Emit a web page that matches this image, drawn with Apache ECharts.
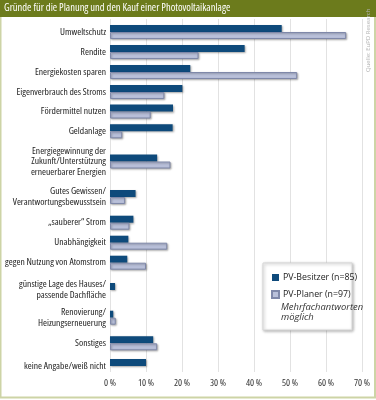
<!DOCTYPE html>
<html>
<head>
<meta charset="utf-8">
<script src="https://cdn.jsdelivr.net/npm/echarts@6/dist/echarts.min.js"></script>
<style>
  html, body { margin: 0; padding: 0; background: #fff; }
  #chart { width: 376px; height: 400px; }
</style>
</head>
<body>
<div id="chart"></div>
<script>
const categories = [
  'Umweltschutz',
  'Rendite',
  'Energiekosten sparen',
  'Eigenverbrauch des Stroms',
  'Fördermittel nutzen',
  'Geldanlage',
  'Energiegewinnung der\nZukunft/Unterstützung\nerneuerbarer Energien',
  'Gutes Gewissen/\nVerantwortungsbewusstsein',
  '„sauberer“ Strom',
  'Unabhängigkeit',
  'gegen Nutzung von Atomstrom',
  'günstige Lage des Hauses/\npassende Dachfläche',
  'Renovierung/\nHeizungserneuerung',
  'Sonstiges',
  'keine Angabe/weiß nicht'
]
const besitzer = [47.7, 37.4, 22.3, 20.1, 17.5, 17.4, 13.1, 7.1, 6.5, 5.1, 4.8, 1.4, 0.9, 12.0, 10.0]
const planer = [65.6, 24.6, 52.0, 15.1, 11.3, 3.4, 16.8, 4.2, 5.4, 15.9, 10.0, 0, 1.6, 13.1, 0]
const ticks = [0, 10, 20, 30, 40, 50, 60, 70]
const seriesNames = ['PV-Besitzer (n=85)', 'PV-Planer (n=97)']

// layout: vertical centre of each row (rows are not evenly spaced)
const rowCenters = [32, 52, 72, 92, 111.5, 131.3, 161.5, 197, 222.7, 242.7, 262.7, 290, 317.7, 343.3, 366]

const FONT = '"Open Sans", sans-serif'
const COND = 'condensed' // passed through into the canvas font string
const DARK = '#0e4a7b'
const LIGHT = '#b9c0da'

const chart = echarts.init(document.getElementById('chart'))

const grid = [], xAxis = [], yAxis = [], series = []

// background grid carrying the gridlines and percent labels
grid.push({ left: 110, right: 14, top: 19, bottom: 28, outerBoundsMode: 'none', containLabel: false })
xAxis.push({
  gridIndex: 0, type: 'value', min: ticks[0], max: ticks[ticks.length - 1], interval: 10,
  axisLine: { show: false }, axisTick: { show: false },
  splitLine: { lineStyle: { color: '#e2e2e2', width: 1 } },
  axisLabel: { formatter: '{value} %', fontFamily: FONT, fontWeight: COND, fontSize: 9.6, color: '#333', margin: 6 }
})
yAxis.push({ gridIndex: 0, type: 'value', show: false })

categories.forEach((cat, i) => {
  const g = i + 1
  grid.push({ left: 110, right: 14, top: rowCenters[i] - 10, height: 20, outerBoundsMode: 'none', containLabel: false })
  xAxis.push({ gridIndex: g, type: 'value', min: 0, max: 70, show: false })
  yAxis.push({
    gridIndex: g, type: 'category', data: [cat],
    axisLine: { show: false }, axisTick: { show: false },
    axisLabel: { fontFamily: FONT, fontWeight: COND, fontSize: 9.6, lineHeight: 10.5, color: '#222', margin: 4 }
  })
  series.push({
    name: seriesNames[0], type: 'bar', xAxisIndex: g, yAxisIndex: g,
    data: [besitzer[i]], barWidth: 7, barGap: '0%',
    itemStyle: { color: DARK, shadowBlur: 2, shadowColor: 'rgba(0,0,0,0.35)', shadowOffsetX: 1, shadowOffsetY: 1 },
    emphasis: { disabled: true }
  })
  series.push({
    name: seriesNames[1], type: 'bar', xAxisIndex: g, yAxisIndex: g,
    data: [planer[i] || '-'], barWidth: 7, barGap: '0%',
    itemStyle: { color: LIGHT, borderColor: '#7f88a9', borderWidth: 1, shadowBlur: 2, shadowColor: 'rgba(0,0,0,0.3)', shadowOffsetX: 1, shadowOffsetY: 1 },
    emphasis: { disabled: true }
  })
})

const option = {
  animation: false,
  grid, xAxis, yAxis, series,
  legend: {
    data: seriesNames,
    orient: 'vertical',
    left: 271, top: 273,
    itemWidth: 7, itemHeight: 7, itemGap: 8,
    icon: 'rect',
    padding: 0,
    textStyle: { fontFamily: FONT, fontSize: 8.8, color: '#222', padding: [0, 0, 0, -1] }
  },
  graphic: [
    // outer frame
    { type: 'rect', shape: { x: 0.5, y: 0.5, width: 374.5, height: 397 }, style: { fill: 'none', stroke: '#cdd4a6', lineWidth: 2 }, z: 0 },
    // title bar
    { type: 'rect', shape: { x: 0, y: 0, width: 376, height: 17 }, style: { fill: '#6c7b1c' }, z: 10 },
    { type: 'text', x: 4, y: 8.5, style: { text: 'Gründe für die Planung und den Kauf einer Photovoltaikanlage', fill: '#fff', font: 'normal 500 condensed 10.5px ' + FONT, verticalAlign: 'middle' }, z: 11 },
    // source note
    { type: 'text', x: 368, y: 72, rotation: Math.PI / 2, style: { text: 'Quelle: EuPD Research', fill: '#b4b4b4', font: '6px ' + FONT, verticalAlign: 'middle' }, z: 11 },
    // legend box
    { type: 'rect', shape: { x: 263, y: 263, width: 89, height: 67 }, style: { fill: '#fff', stroke: '#d6d6d6', lineWidth: 1, shadowBlur: 3, shadowColor: 'rgba(0,0,0,0.3)', shadowOffsetX: 1, shadowOffsetY: 1 }, z: 1 },
    { type: 'text', x: 281, y: 302, style: { text: 'Mehrfachantworten\nmöglich', fill: '#333', font: 'italic 9.4px ' + FONT, lineHeight: 10.5 }, z: 11 }
  ]
}
chart.setOption(option)
</script>
</body>
</html>
